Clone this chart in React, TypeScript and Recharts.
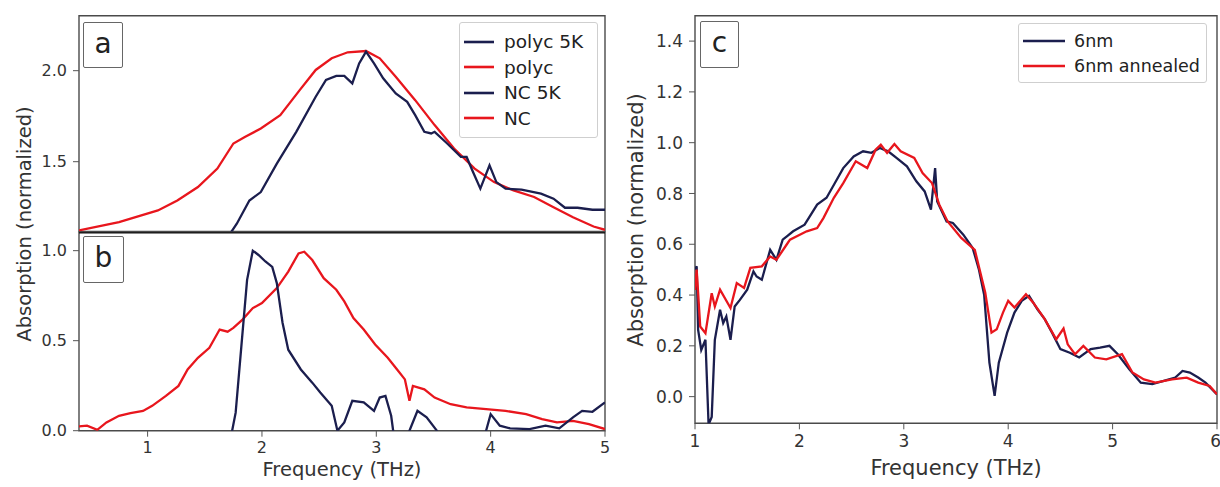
import React from 'react';
import { LineChart, Line, XAxis, YAxis, ReferenceArea, ReferenceLine, Legend, Label } from 'recharts';

const NAVY = '#1b1e4e';
const RED = '#e8161d';
const FONT = '"DejaVu Sans", Verdana, sans-serif';
const TICK_COLOR = '#333';
const FRAME = '#4a4a4a';

// ---------- Panel a (polyc) ----------
const polyc5kFreq = [1.71, 1.78, 1.89, 1.99, 2.13, 2.3, 2.47, 2.56, 2.65, 2.72, 2.79, 2.85, 2.91, 2.98, 3.06, 3.17, 3.27, 3.34, 3.42, 3.48, 3.51, 3.62, 3.74, 3.79, 3.84, 3.91, 3.99, 4.05, 4.13, 4.27, 4.44, 4.55, 4.65, 4.76, 4.89, 5.0];
const polyc5kAbs = [1.094, 1.159, 1.287, 1.333, 1.489, 1.664, 1.857, 1.949, 1.971, 1.971, 1.93, 2.04, 2.105, 2.04, 1.958, 1.875, 1.829, 1.756, 1.664, 1.655, 1.664, 1.6, 1.526, 1.526, 1.452, 1.352, 1.48, 1.388, 1.352, 1.346, 1.324, 1.297, 1.247, 1.247, 1.236, 1.236];
const polycFreq = [0.4, 0.75, 1.09, 1.26, 1.44, 1.61, 1.75, 1.85, 1.99, 2.16, 2.33, 2.47, 2.61, 2.75, 2.91, 3.03, 3.17, 3.34, 3.51, 3.68, 3.86, 4.03, 4.2, 4.38, 4.55, 4.72, 4.9, 5.0];
const polycAbs = [1.122, 1.168, 1.232, 1.287, 1.361, 1.462, 1.6, 1.636, 1.682, 1.756, 1.893, 2.004, 2.068, 2.101, 2.108, 2.068, 1.967, 1.838, 1.701, 1.572, 1.462, 1.388, 1.342, 1.306, 1.25, 1.195, 1.144, 1.126];

// ---------- Panel b (NC) ----------
const nc5kFreq = [1.73, 1.77, 1.82, 1.87, 1.92, 1.97, 2.03, 2.09, 2.13, 2.18, 2.23, 2.34, 2.44, 2.51, 2.61, 2.66, 2.72, 2.79, 2.89, 2.98, 3.03, 3.08, 3.13, 3.16, 3.22, 3.29, 3.36, 3.44, 3.53, 3.6, 3.9, 3.96, 4.0, 4.08, 4.17, 4.34, 4.48, 4.6, 4.72, 4.8, 4.89, 5.0];
const nc5kAbs = [-0.03, 0.1, 0.47, 0.838, 1.0, 0.976, 0.94, 0.91, 0.82, 0.6, 0.45, 0.34, 0.267, 0.212, 0.138, 0.0, 0.046, 0.166, 0.157, 0.11, 0.184, 0.193, 0.083, -0.06, -0.12, 0.0, 0.11, 0.074, 0.0, -0.12, -0.12, 0.0, 0.092, 0.028, 0.013, 0.009, 0.028, 0.013, 0.074, 0.11, 0.105, 0.157];
const ncFreq = [0.4, 0.47, 0.56, 0.64, 0.75, 0.85, 0.96, 1.04, 1.16, 1.27, 1.35, 1.44, 1.54, 1.63, 1.7, 1.75, 1.83, 1.92, 2.0, 2.13, 2.23, 2.32, 2.37, 2.44, 2.54, 2.65, 2.72, 2.8, 2.89, 2.99, 3.1, 3.18, 3.25, 3.29, 3.32, 3.42, 3.51, 3.65, 3.79, 3.96, 4.13, 4.31, 4.45, 4.58, 4.72, 4.86, 5.0];
const ncAbs = [0.024, 0.028, 0.005, 0.046, 0.083, 0.098, 0.11, 0.138, 0.193, 0.249, 0.34, 0.405, 0.46, 0.562, 0.55, 0.571, 0.617, 0.681, 0.709, 0.792, 0.884, 0.985, 0.994, 0.948, 0.847, 0.783, 0.718, 0.626, 0.562, 0.479, 0.405, 0.341, 0.285, 0.166, 0.249, 0.23, 0.184, 0.147, 0.129, 0.12, 0.11, 0.092, 0.064, 0.046, 0.055, 0.037, 0.009];

// ---------- Panel c (6nm) ----------
const nm6Freq = [1.0, 1.016, 1.03, 1.06, 1.1, 1.13, 1.16, 1.19, 1.24, 1.27, 1.3, 1.34, 1.38, 1.43, 1.5, 1.56, 1.59, 1.64, 1.72, 1.78, 1.84, 1.88, 1.94, 2.05, 2.17, 2.26, 2.34, 2.42, 2.52, 2.61, 2.69, 2.77, 2.85, 2.93, 3.03, 3.12, 3.2, 3.26, 3.3, 3.32, 3.41, 3.47, 3.57, 3.66, 3.72, 3.77, 3.82, 3.87, 3.91, 3.99, 4.06, 4.13, 4.2, 4.28, 4.35, 4.42, 4.5, 4.59, 4.68, 4.79, 4.88, 4.97, 5.05, 5.16, 5.27, 5.38, 5.49, 5.6, 5.67, 5.74, 5.82, 5.89, 6.0];
const nm6Abs = [0.5, 0.513, 0.263, 0.184, 0.224, -0.11, -0.08, 0.224, 0.342, 0.29, 0.316, 0.224, 0.355, 0.381, 0.421, 0.493, 0.473, 0.46, 0.578, 0.539, 0.618, 0.631, 0.651, 0.677, 0.756, 0.783, 0.841, 0.9, 0.946, 0.966, 0.96, 0.979, 0.966, 0.94, 0.907, 0.848, 0.808, 0.736, 0.9, 0.769, 0.69, 0.684, 0.638, 0.585, 0.5, 0.4, 0.134, 0.003, 0.134, 0.252, 0.331, 0.377, 0.397, 0.344, 0.305, 0.252, 0.187, 0.173, 0.154, 0.187, 0.193, 0.2, 0.167, 0.108, 0.055, 0.049, 0.062, 0.075, 0.101, 0.095, 0.075, 0.055, 0.009];
const nm6AnnFreq = [1.0, 1.016, 1.05, 1.1, 1.16, 1.19, 1.24, 1.34, 1.4, 1.47, 1.53, 1.64, 1.72, 1.78, 1.88, 1.91, 2.07, 2.17, 2.23, 2.33, 2.42, 2.54, 2.65, 2.73, 2.78, 2.84, 2.91, 2.97, 3.1, 3.18, 3.27, 3.34, 3.42, 3.55, 3.68, 3.78, 3.84, 3.89, 3.95, 4.0, 4.06, 4.17, 4.24, 4.35, 4.46, 4.53, 4.57, 4.64, 4.72, 4.83, 4.94, 5.09, 5.19, 5.3, 5.41, 5.57, 5.71, 5.82, 5.93, 6.0];
const nm6AnnAbs = [0.42, 0.5, 0.276, 0.25, 0.407, 0.355, 0.421, 0.349, 0.447, 0.428, 0.507, 0.513, 0.552, 0.539, 0.6, 0.618, 0.651, 0.664, 0.703, 0.783, 0.841, 0.927, 0.9, 0.972, 0.992, 0.96, 0.995, 0.966, 0.94, 0.88, 0.841, 0.756, 0.69, 0.625, 0.578, 0.41, 0.252, 0.265, 0.331, 0.377, 0.351, 0.403, 0.37, 0.305, 0.226, 0.268, 0.206, 0.167, 0.2, 0.154, 0.147, 0.167, 0.095, 0.068, 0.055, 0.068, 0.075, 0.055, 0.042, 0.009];

// ---------- axes / legends ----------
const xTicksAB = [1, 2, 3, 4, 5];
const yTicksA = [1.5, 2.0];
const yTicksB = [0, 0.5, 1.0];
const xTicksC = [1, 2, 3, 4, 5, 6];
const yTicksC = [0, 0.2, 0.4, 0.6, 0.8, 1.0, 1.2, 1.4];
const legendAB = [
  { label: 'polyc 5K', color: NAVY },
  { label: 'polyc', color: RED },
  { label: 'NC 5K', color: NAVY },
  { label: 'NC', color: RED },
];
const legendC = [
  { label: '6nm', color: NAVY },
  { label: '6nm annealed', color: RED },
];

const X_DOMAIN_AB: [number, number] = [0.4, 5];
const Y_DOMAIN_A: [number, number] = [1.1165, 2.302];
const Y_DOMAIN_B: [number, number] = [0, 1.102];
const X_DOMAIN_C: [number, number] = [1, 6];
const Y_DOMAIN_C: [number, number] = [-0.105, 1.5];

const zip = (xs: number[], ys: number[]) => xs.map((x, i) => ({ x, y: ys[i] }));

const polyc5kData = zip(polyc5kFreq, polyc5kAbs);
const polycData = zip(polycFreq, polycAbs);
const nc5kData = zip(nc5kFreq, nc5kAbs);
const ncData = zip(ncFreq, ncAbs);
const nm6Data = zip(nm6Freq, nm6Abs);
const nm6AnnData = zip(nm6AnnFreq, nm6AnnAbs);

const fmt1 = (v: number) => v.toFixed(1);

const LegendBox = ({ items, width, rowH, lineLen, gap, fontSize, padTop }: any) => (
  <div
    style={{
      width,
      boxSizing: 'border-box',
      border: '1px solid #cfcfcf',
      borderRadius: 3,
      background: 'rgba(255,255,255,0.85)',
      paddingTop: padTop,
      paddingBottom: padTop,
      fontFamily: FONT,
      fontSize,
      color: '#222',
    }}
  >
    {items.map((it: any) => (
      <div key={it.label} style={{ height: rowH, display: 'flex', alignItems: 'center', whiteSpace: 'nowrap' }}>
        <svg width={lineLen + 4} height={6} style={{ marginLeft: 2, marginRight: gap }}>
          <line x1={2} y1={3} x2={lineLen + 2} y2={3} stroke={it.color} strokeWidth={2.6} />
        </svg>
        <span>{it.label}</span>
      </div>
    ))}
  </div>
);

const PanelTag = ({ text, left, top, w, h }: any) => (
  <div
    style={{
      position: 'absolute',
      left,
      top,
      width: w,
      height: h,
      boxSizing: 'border-box',
      border: '1.5px solid #666',
      borderRadius: 2,
      background: '#fff',
      fontFamily: FONT,
      fontSize: 28,
      color: '#222',
      display: 'flex',
      alignItems: 'center',
      justifyContent: 'center',
      lineHeight: 1,
    }}
  >
    <span style={{ marginTop: -3 }}>{text}</span>
  </div>
);

const VLabel = ({ text, cx, cy, size }: any) => (
  <div
    style={{
      position: 'absolute',
      left: cx,
      top: cy,
      transform: 'translate(-50%, -50%) rotate(-90deg)',
      whiteSpace: 'nowrap',
      fontFamily: FONT,
      fontSize: size,
      color: '#333',
    }}
  >
    {text}
  </div>
);

const tickStyle = (size: number) => ({ fill: TICK_COLOR, fontSize: size, fontFamily: FONT });

export default function App() {
  return (
    <div style={{ position: 'absolute', left: 0, top: 0, width: 1220, height: 487, background: '#fff', overflow: 'hidden' }}>
      {/* Panel b (bottom left) */}
      <div style={{ position: 'absolute', left: 0, top: 0 }}>
        <LineChart width={620} height={487} margin={{ top: 232.3, right: 15, bottom: 6.3, left: 19 }}>
          <XAxis
            type="number"
            dataKey="x"
            domain={X_DOMAIN_AB}
            allowDataOverflow
            ticks={xTicksAB}
            height={50}
            tickSize={6}
            tickMargin={5}
            axisLine={false}
            tickLine={{ stroke: '#555' }}
            tick={tickStyle(16)}
          >
            <Label value="Frequency (THz)" position="insideBottom" offset={4.7} fill="#333" fontSize={19.5} fontFamily={FONT} />
          </XAxis>
          <YAxis
            type="number"
            domain={Y_DOMAIN_B}
            allowDataOverflow
            ticks={yTicksB}
            tickFormatter={fmt1}
            width={60}
            tickSize={6}
            tickMargin={6}
            axisLine={false}
            tickLine={{ stroke: '#555' }}
            tick={tickStyle(16)}
          />
          <ReferenceArea x1={X_DOMAIN_AB[0]} x2={X_DOMAIN_AB[1]} y1={Y_DOMAIN_B[0]} y2={Y_DOMAIN_B[1]} fill="none" stroke={FRAME} strokeWidth={1.4} />
          <Line data={ncData} dataKey="y" stroke={RED} strokeWidth={2.3} dot={false} isAnimationActive={false} />
          <Line data={nc5kData} dataKey="y" stroke={NAVY} strokeWidth={2.3} dot={false} isAnimationActive={false} />
          <ReferenceLine y={Y_DOMAIN_B[1]} stroke="#111" strokeWidth={2.6} />
        </LineChart>
      </div>

      {/* Panel a (top left) */}
      <div style={{ position: 'absolute', left: 0, top: 0 }}>
        <LineChart width={620} height={240} margin={{ top: 15.7, right: 15, bottom: 8.5, left: 19 }}>
          <XAxis type="number" dataKey="x" domain={X_DOMAIN_AB} allowDataOverflow hide />
          <YAxis
            type="number"
            domain={Y_DOMAIN_A}
            allowDataOverflow
            ticks={yTicksA}
            tickFormatter={fmt1}
            width={60}
            tickSize={6}
            tickMargin={6}
            axisLine={false}
            tickLine={{ stroke: '#555' }}
            tick={tickStyle(16)}
          />
          <ReferenceArea x1={X_DOMAIN_AB[0]} x2={X_DOMAIN_AB[1]} y1={Y_DOMAIN_A[0]} y2={Y_DOMAIN_A[1]} fill="none" stroke={FRAME} strokeWidth={1.4} />
          <Line data={polycData} dataKey="y" stroke={RED} strokeWidth={2.3} dot={false} isAnimationActive={false} />
          <Line data={polyc5kData} dataKey="y" stroke={NAVY} strokeWidth={2.3} dot={false} isAnimationActive={false} />
          <Legend
            layout="vertical"
            align="center"
            verticalAlign="middle"
            wrapperStyle={{ left: 459, top: 22, width: 139 }}
            content={() => (
              <LegendBox items={legendAB} width={139} rowH={25.5} lineLen={30} gap={8} fontSize={18.5} padTop={6} />
            )}
          />
        </LineChart>
      </div>

      {/* Panel c (right) */}
      <div style={{ position: 'absolute', left: 620, top: 0 }}>
        <LineChart width={600} height={487} margin={{ top: 15.7, right: 3, bottom: 13.7, left: 15 }}>
          <XAxis
            type="number"
            dataKey="x"
            domain={X_DOMAIN_C}
            allowDataOverflow
            ticks={xTicksC}
            height={50}
            tickSize={6}
            tickMargin={6}
            axisLine={false}
            tickLine={{ stroke: '#555' }}
            tick={tickStyle(17)}
          >
            <Label value="Frequency (THz)" position="insideBottom" offset={-2} fill="#333" fontSize={21} fontFamily={FONT} />
          </XAxis>
          <YAxis
            type="number"
            domain={Y_DOMAIN_C}
            allowDataOverflow
            ticks={yTicksC}
            tickFormatter={fmt1}
            width={60}
            tickSize={6}
            tickMargin={6}
            axisLine={false}
            tickLine={{ stroke: '#555' }}
            tick={tickStyle(17)}
          />
          <ReferenceArea x1={X_DOMAIN_C[0]} x2={X_DOMAIN_C[1]} y1={Y_DOMAIN_C[0]} y2={Y_DOMAIN_C[1]} fill="none" stroke={FRAME} strokeWidth={1.4} />
          <Line data={nm6Data} dataKey="y" stroke={NAVY} strokeWidth={2.3} dot={false} isAnimationActive={false} />
          <Line data={nm6AnnData} dataKey="y" stroke={RED} strokeWidth={2.3} dot={false} isAnimationActive={false} />
          <Legend
            layout="vertical"
            align="center"
            verticalAlign="middle"
            wrapperStyle={{ left: 398, top: 23, width: 189 }}
            content={() => (
              <LegendBox items={legendC} width={189} rowH={25} lineLen={42} gap={7} fontSize={17.5} padTop={4} />
            )}
          />
        </LineChart>
      </div>

      <PanelTag text="a" left={83} top={22} w={40} h={46} />
      <PanelTag text="b" left={83} top={236} w={41} h={47} />
      <PanelTag text="c" left={700} top={21} w={39} h={47} />

      <VLabel text="Absorption (normalized)" cx={24} cy={223.5} size={19.5} />
      <VLabel text="Absorption (normalized)" cx={636} cy={220} size={21} />
    </div>
  );
}
